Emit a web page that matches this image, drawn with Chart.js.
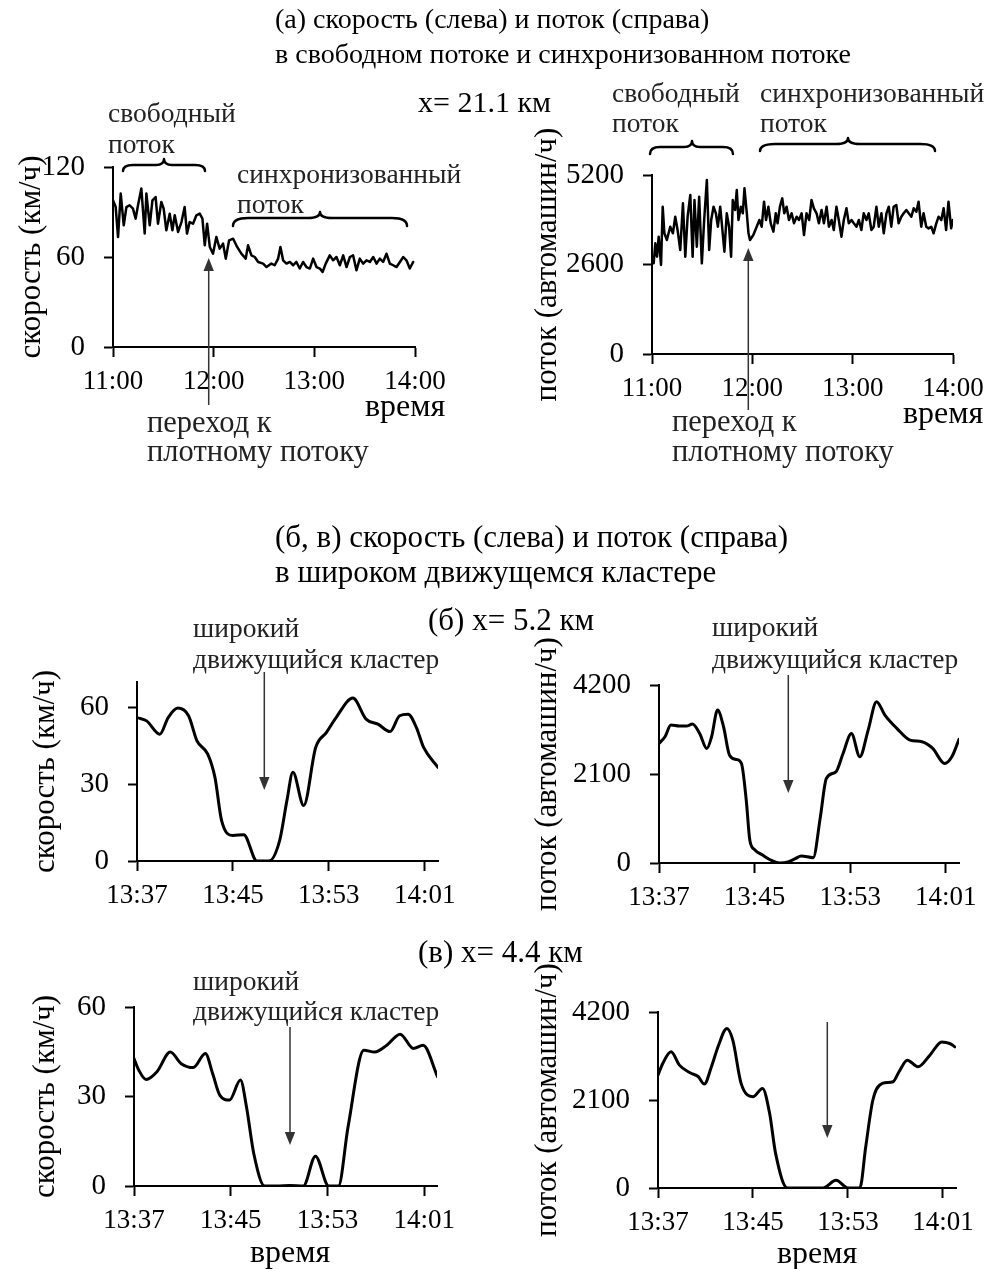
<!DOCTYPE html>
<html><head><meta charset="utf-8">
<script src="https://cdn.jsdelivr.net/npm/chart.js@4.4.1/dist/chart.umd.min.js"></script>
<style>
html,body{margin:0;padding:0;background:#fff;}
body{width:992px;height:1269px;position:relative;overflow:hidden;font-family:'Liberation Serif','Times New Roman',serif;}
canvas{position:absolute;}
#ov{position:absolute;left:0;top:0;width:992px;height:1269px;pointer-events:none;z-index:5;}
#ov text{font-family:'Liberation Serif','Times New Roman',serif;}
.t1{font-size:28px;fill:#000;}
.t2{font-size:31px;fill:#000;}
.x1{font-size:30px;fill:#000;}
.a{font-size:27.5px;fill:#222;}
.p{font-size:30.5px;fill:#222;}
.w{font-size:32px;fill:#000;}
.br{fill:none;stroke:#000;stroke-width:2.5;stroke-linecap:round;stroke-linejoin:round;}
.ar{stroke:#333;stroke-width:1.5;}
.ah{fill:#333;}
</style></head><body>
<svg id="ov" width="992" height="1269" xmlns="http://www.w3.org/2000/svg">
  <text class="t1" x="275" y="28">(а) скорость (слева) и поток (справа)</text>
  <text class="t1" x="275" y="63">в свободном потоке и синхронизованном потоке</text>
  <text class="x1" x="418" y="112">x= 21.1 км</text>

  <text class="a" x="108" y="122">свободный</text>
  <text class="a" x="108" y="153">поток</text>
  <text class="a" x="237" y="183">синхронизованный</text>
  <text class="a" x="237" y="213">поток</text>
  <text class="p" x="147" y="432">переход к</text>
  <text class="p" x="147" y="461">плотному потоку</text>
  <text class="w" x="365" y="416">время</text>

  <text class="a" x="612" y="102">свободный</text>
  <text class="a" x="612" y="132">поток</text>
  <text class="a" x="760" y="102">синхронизованный</text>
  <text class="a" x="760" y="132">поток</text>
  <text class="p" x="672" y="431">переход к</text>
  <text class="p" x="672" y="461">плотному потоку</text>
  <text class="w" x="903" y="423">время</text>

  <text class="t2" x="275" y="547">(б, в) скорость (слева) и поток (справа)</text>
  <text class="t2" x="275" y="582">в широком движущемся кластере</text>
  <text class="t2" x="428" y="630">(б) x= 5.2 км</text>
  <text class="a" x="193" y="637">широкий</text>
  <text class="a" x="193" y="668">движущийся кластер</text>
  <text class="a" x="712" y="636">широкий</text>
  <text class="a" x="712" y="668">движущийся кластер</text>

  <text class="t2" x="418" y="962">(в) x= 4.4 км</text>
  <text class="a" x="193" y="990">широкий</text>
  <text class="a" x="193" y="1020">движущийся кластер</text>
  <text class="w" x="250" y="1262">время</text>
  <text class="w" x="777" y="1263">время</text>

  <!-- braces -->
  <path class="br" d="M123,171 Q123,165 133,165 L156,165 Q164,165 164,159 Q164,165 172,165 L195,165 Q205,165 205,171"/>
  <path class="br" d="M233,226 Q233,218 248,218 L308,218 Q320,218 320,212 Q320,218 332,218 L392,218 Q407,218 407,226"/>
  <path class="br" d="M650,154 Q650,147 660,147 L684,147 Q692,147 692,141 Q692,147 700,147 L723,147 Q733,147 733,154"/>
  <path class="br" d="M760,151 Q760,144 775,144 L836,144 Q848,144 848,138 Q848,144 860,144 L920,144 Q935,144 935,151"/>

  <!-- arrows -->
  <line class="ar" x1="208.7" y1="405" x2="208.7" y2="268"/>
  <polygon class="ah" points="208.7,258 203.5,271 213.9,271"/>
  <line class="ar" x1="748.3" y1="410" x2="748.3" y2="258"/>
  <polygon class="ah" points="748.3,248 743.1,261 753.5,261"/>
  <line class="ar" x1="264.3" y1="672" x2="264.3" y2="780"/>
  <polygon class="ah" points="264.3,790 259.1,777 269.5,777"/>
  <line class="ar" x1="788.3" y1="675" x2="788.3" y2="783"/>
  <polygon class="ah" points="788.3,793 783.1,780 793.5,780"/>
  <line class="ar" x1="290" y1="1027" x2="290" y2="1135"/>
  <polygon class="ah" points="290,1145 284.8,1132 295.2,1132"/>
  <line class="ar" x1="827.3" y1="1022" x2="827.3" y2="1128"/>
  <polygon class="ah" points="827.3,1138 822.1,1125 832.5,1125"/>
</svg>
<script>
// ---------- data ----------
// (а) x = 21.1 км, minutes after 11:00
const timeA_speed = [0,1.6,3.0,4.6,6.4,8.0,9.9,11.9,13.5,14.9,16.9,18.9,19.9,21.9,23.5,25.4,26.8,28.8,30.2,31.8,33.8,35.4,36.8,38.8,40.8,42.7,44.1,45.7,47.7,49.7,51.7,53.3,54.7,56.1,57.7,59.6,61.6,63.6,65.6,67.2,69.2,71.6,74.0,76.5,79.1,80.5,82.5,84.5,86.5,89.5,91.5,94.4,96.4,98.4,99.8,101.4,103.4,105.4,107.4,109.3,111.3,113.3,115.3,117.3,119.3,121.3,123.3,124.9,126.8,129.2,131.2,133.2,135.2,137.2,139.2,141.2,143.1,145.1,147.1,149.1,151.1,153.1,155.1,157.1,159.0,161.0,163.0,165.0,167.0,169.0,171.0,173.0,174.9,176.9,178.9];
const speedA = [97.8,93.3,73.3,102.3,81.1,93.3,94.5,92.2,85.6,94.5,105.6,75.6,102.3,81.1,97.8,100,82.2,96.7,92.2,77.8,88.9,77.8,87.8,76.7,83.3,93.3,75.6,83.3,82.2,87.8,88.9,85.6,67.8,82.2,66.7,62.2,73.3,65.6,68.9,58.9,71.1,72.2,66.7,62.2,58.9,67.8,61.1,60,56.7,55.6,53.3,55.6,54.5,58.9,66.7,57.8,55.6,56.7,54.5,56.7,52.3,56.7,53.3,52.3,58.9,53.3,52.3,50,55.6,61.1,57.8,60,54.5,61.1,53.3,60,61.1,51.1,58.9,55.6,57.8,56.7,60,55.6,58.9,56.7,62.2,55.6,54.5,53.3,56.7,60,57.8,52.3,56.7];
const timeA_flow = [1.0,2.0,3.0,4.0,5.4,6.4,7.4,8.9,10.9,12.5,13.9,15.3,16.9,18.5,19.9,21.3,22.9,24.3,25.4,26.8,28.2,29.8,31.2,32.8,34.2,35.4,36.8,38.2,39.4,40.8,42.1,43.3,44.7,46.1,47.3,48.3,49.7,50.7,51.7,53.1,54.3,55.3,56.7,57.7,58.6,60.6,62.6,64.2,65.6,67.0,68.2,69.6,71.0,72.6,74.0,75.1,76.5,77.9,79.1,80.5,81.9,83.5,84.9,86.5,87.9,89.5,90.9,92.4,94.0,95.4,96.8,98.4,99.8,101.4,102.8,104.4,105.8,107.4,108.7,110.3,111.7,113.3,114.7,116.3,117.7,119.3,120.7,122.3,123.7,125.2,126.6,128.2,129.6,131.2,132.6,134.2,135.6,137.2,138.6,140.2,141.6,143.1,144.5,146.1,147.5,149.1,150.5,152.1,153.5,155.1,156.5,158.1,159.4,161.0,162.4,164.0,165.4,167.0,168.4,170.0,171.4,173.0,174.4,175.9,177.3,178.9,179.9];
const flowA = [2634,3215,2827,3408,2585,4279,3506,3312,3698,3506,
  3989,3602,3021,4377,2827,3989,4619,2827,4474,3118,
  4570,2634,3893,5055,3021,3893,4279,4087,3698,4279,
  3602,2972,4087,3698,2827,4474,4183,4764,3893,4279,
  4087,4812,4087,3506,3312,3457,3698,3893,3698,4425,
  3893,4279,3796,3554,4087,3796,4279,4522,4087,4279,
  3893,4087,3796,3989,3893,4087,3457,4087,3893,4474,
  4232,4087,3796,4183,3796,4279,3698,3893,3602,4279,
  3893,3408,3893,4232,3796,3893,3796,3698,3893,3602,
  4087,3893,4087,3602,3698,4279,3698,4087,3506,4087,
  4279,3698,4279,4328,3796,3989,4087,4183,4087,3989,
  4232,4135,4425,3698,4087,3698,3650,3698,3506,3796,
  3989,3893,4232,3602,4425,3650,3893];
const ticksA = ['11:00','12:00','13:00','14:00'];

// (б) x = 5.2 км, minutes after 13:37
const timeB_speed = [0,0.8,1.9,2.6,3.4,4.3,5.0,5.9,6.5,7.05,8.0,8.9,10.0,11.0,11.9,12.5,13.0,13.9,14.9,15.8,16.6,18.0,19.1,20.1,21.1,21.9,22.6,23.3,23.9,25.1];
const speedB = [56.1,54.8,49.6,56.1,59.8,56.8,47,41.8,32.7,15.9,10,10.3,0,0,8.1,23.6,34.7,21.7,44.4,50.3,56.1,63.7,55.5,53.5,50.6,56.8,57.4,52.2,44.4,36.6];
const timeB_flow = [0,0.5,1.0,1.7,2.3,2.8,3.4,4.0,4.4,4.9,5.4,5.9,6.5,6.9,7.3,7.6,8.0,8.7,9.4,10.1,10.8,11.4,11.9,12.9,13.5,14.0,14.8,15.4,16.1,16.8,17.5,18.2,18.9,19.9,21.0,22.0,22.9,23.9,24.5,25.1];
const flowB = [2821,2979,3254,3231,3231,3278,3057,2703,2979,3609,3215,2545,2443,2348,1481,536,315,181,63,0,24,102,165,126,1087,1994,2151,2585,3057,2506,3136,3806,3491,3176,2900,2860,2703,2348,2506,2916];

// (в) x = 4.4 км, minutes after 13:37
const timeC_speed = [0,0.4,1.0,1.9,3.0,3.9,4.9,5.9,6.5,7.1,7.9,8.8,9.3,9.9,10.8,11.8,12.9,14.0,15.0,16.1,16.9,17.7,19.0,19.9,20.9,22.0,23.1,23.9,25.1];
const speedC = [42.7,38.8,35.7,38.3,44.9,41.0,39.7,44.4,37.7,30.4,28.8,35.5,26.5,10.9,0,0,0.2,0,10.0,0,0,19.9,45.5,44.9,47.2,50.9,46.1,47.2,36.6];
const timeC_flow = [0,0.4,1.1,1.8,2.7,3.4,3.9,4.5,5.1,5.8,6.3,7.0,8.0,8.8,9.4,9.9,10.9,12.2,13.9,15.0,16.0,17.0,17.5,18.1,18.9,19.8,20.3,21.0,21.9,22.9,23.9,24.6,25.0];
const flowC = [2694,2972,3249,2932,2750,2655,2480,2893,3408,3804,3527,2496,2179,2377,1783,832,0,0,0,182,0,0,991,2100,2496,2536,2774,3051,2893,3170,3487,3447,3368];
const ticksBC = ['13:37','13:45','13:53','14:01'];

const speedTitle = 'скорость (км/ч)';
const flowTitle = 'поток (автомашин/ч)';

// ---------- drawing ----------
const FAM = "'Liberation Serif','Times New Roman',serif";
const svg = document.getElementById('ov');

function makeChart(box, W, xs, ys, o) {
  const padTop = 80, padRight = 50, H = 80;
  const width = W + (box.r - box.l) + padRight;
  const height = padTop + (box.b - box.t) + H;
  const c = document.createElement('canvas');
  c.width = width; c.height = height;
  c.style.left = (box.l - W) + 'px'; c.style.top = (box.t - padTop) + 'px';
  c.style.width = width + 'px'; c.style.height = height + 'px';
  document.body.insertBefore(c, svg);
  new Chart(c, {
    type: 'line',
    data: { datasets: [{
      data: xs.map((x, i) => ({x: x, y: ys[i]})),
      borderColor: '#000', borderWidth: o.lw, pointRadius: 0,
      tension: o.smooth ? 0.4 : 0,
      cubicInterpolationMode: o.smooth ? 'monotone' : 'default',
      fill: false, borderJoinStyle: 'round', borderCapStyle: 'round'
    }]},
    options: {
      responsive: false, maintainAspectRatio: false, animation: false,
      layout: { padding: { top: padTop, right: padRight, left: 0, bottom: 0 } },
      plugins: { legend: { display: false }, tooltip: { enabled: false } },
      scales: {
        x: {
          type: 'linear', min: o.xmin, max: o.xmax,
          grid: { drawOnChartArea: false, drawTicks: true, tickLength: 10, tickColor: '#000', tickWidth: 2 },
          border: { color: '#000', width: 2 },
          ticks: {
            stepSize: o.xstep, includeBounds: false, autoSkip: false, maxRotation: 0, minRotation: 0,
            color: '#000', font: { family: FAM, size: 27 }, padding: 9,
            callback: (v) => o.xlabels[Math.round((v - o.xmin) / o.xstep)]
          },
          afterFit: (s) => { s.height = H; }
        },
        y: {
          type: 'linear', min: 0, max: o.ymax,
          grid: { drawOnChartArea: false, drawTicks: true, tickLength: 9, tickColor: '#000', tickWidth: 2 },
          border: { color: '#000', width: 2 },
          ticks: { stepSize: o.ystep, includeBounds: false, color: '#000', font: { family: FAM, size: 29 }, padding: 19,
                   callback: (v) => String(v) },
          title: { display: true, text: o.ytitle, color: '#000', font: { family: FAM, size: 31 }, padding: 0 },
          afterFit: (s) => { s.width = W; }
        }
      }
    }
  });
}

makeChart({l:113,t:167,r:415,b:347}, 100, timeA_speed, speedA,
  {lw:2.5, smooth:false, xmin:0, xmax:180, xstep:60, xlabels:ticksA, ymax:120, ystep:60, ytitle:speedTitle});
makeChart({l:652,t:175,r:953,b:354}, 123, timeA_flow, flowA,
  {lw:2.5, smooth:false, xmin:0, xmax:180, xstep:60, xlabels:ticksA, ymax:5200, ystep:2600, ytitle:flowTitle});
makeChart({l:137,t:682,r:438,b:861}, 110, timeB_speed, speedB,
  {lw:3, smooth:true, xmin:0, xmax:25.1, xstep:8, xlabels:ticksBC, ymax:70, ystep:30, ytitle:speedTitle});
makeChart({l:659,t:685,r:959,b:863}, 130, timeB_flow, flowB,
  {lw:3, smooth:true, xmin:0, xmax:25.1, xstep:8, xlabels:ticksBC, ymax:4200, ystep:2100, ytitle:flowTitle});
makeChart({l:134,t:1007,r:437,b:1186}, 107, timeC_speed, speedC,
  {lw:3, smooth:true, xmin:0, xmax:25.05, xstep:8, xlabels:ticksBC, ymax:60, ystep:30, ytitle:speedTitle});
makeChart({l:658,t:1012,r:956,b:1188}, 129, timeC_flow, flowC,
  {lw:3, smooth:true, xmin:0, xmax:25.1, xstep:8, xlabels:ticksBC, ymax:4200, ystep:2100, ytitle:flowTitle});
</script>
</body></html>
